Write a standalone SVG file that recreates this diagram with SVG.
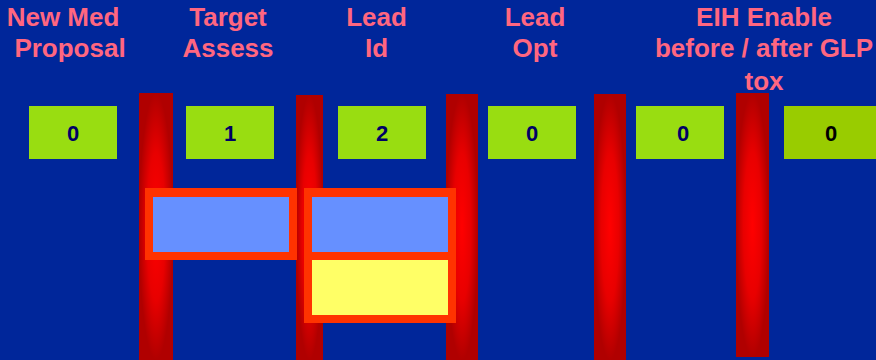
<svg xmlns="http://www.w3.org/2000/svg" width="876" height="360" viewBox="0 0 876 360">
<defs>
<radialGradient id="barGrad" cx="0.5" cy="0.5" r="0.5">
<stop offset="0" stop-color="#FF0000"/>
<stop offset="0.55" stop-color="#E80000"/>
<stop offset="1" stop-color="#B00000"/>
</radialGradient>
<style>
.head{font-family:"Liberation Sans",Arial,sans-serif;font-weight:bold;font-size:26px;fill:#FF6680;text-anchor:middle}
.num{font-family:"Liberation Sans",Arial,sans-serif;font-weight:bold;font-size:22px;fill:#000066;text-anchor:middle}
.green{fill:#99DD11}
.bar{fill:url(#barGrad)}
.frame{fill:#FF3300}
.blue{fill:#6690FF}
.yellow{fill:#FFFF66}
</style>
</defs>
<rect width="876" height="360" fill="#00269A"/>
<g id="headers">
<text class="head" x="63" y="26">New Med</text>
<text class="head" x="70" y="57">Proposal</text>
<text class="head" x="228" y="26">Target</text>
<text class="head" x="228" y="57">Assess</text>
<text class="head" x="376.5" y="26">Lead</text>
<text class="head" x="376.5" y="57">Id</text>
<text class="head" x="535" y="26">Lead</text>
<text class="head" x="535" y="57">Opt</text>
<text class="head" x="764" y="26">EIH Enable</text>
<text class="head" x="764" y="57">before / after GLP</text>
<text class="head" x="764" y="90">tox</text>
</g>
<g id="bars">
<rect class="bar" x="139" y="93" width="34" height="267"/>
<rect class="bar" x="296" y="95" width="27" height="265"/>
<rect class="bar" x="446" y="94" width="32" height="266"/>
<rect class="bar" x="594" y="94" width="32" height="266"/>
<rect class="bar" x="736" y="93" width="33" height="264"/>
</g>
<g id="count-new-med">
<rect class="green" x="29" y="106" width="88" height="53"/>
<text class="num" x="73" y="141">0</text>
</g>
<g id="count-target">
<rect class="green" x="186" y="106" width="88" height="53"/>
<text class="num" x="230" y="141">1</text>
</g>
<g id="count-lead-id">
<rect class="green" x="338" y="106" width="88" height="53"/>
<text class="num" x="382" y="141">2</text>
</g>
<g id="count-lead-opt">
<rect class="green" x="488" y="106" width="88" height="53"/>
<text class="num" x="532" y="141">0</text>
</g>
<g id="count-eih">
<rect class="green" x="636" y="106" width="88" height="53"/>
<text class="num" x="683" y="141">0</text>
</g>
<g id="count-last">
<rect x="784" y="106" width="92" height="53" fill="#99CC00"/>
<text class="num" x="831" y="141" style="fill:#000000">0</text>
</g>
<g id="box-target">
<rect class="frame" x="145" y="188" width="152" height="72"/>
<rect class="blue" x="153" y="197" width="136" height="55"/>
</g>
<g id="box-lead-id">
<rect class="frame" x="304" y="188" width="152" height="135"/>
<rect class="blue" x="312" y="197" width="136" height="55"/>
<rect class="yellow" x="312" y="260" width="136" height="55"/>
</g>
<g id="connectors"/>
</svg>
